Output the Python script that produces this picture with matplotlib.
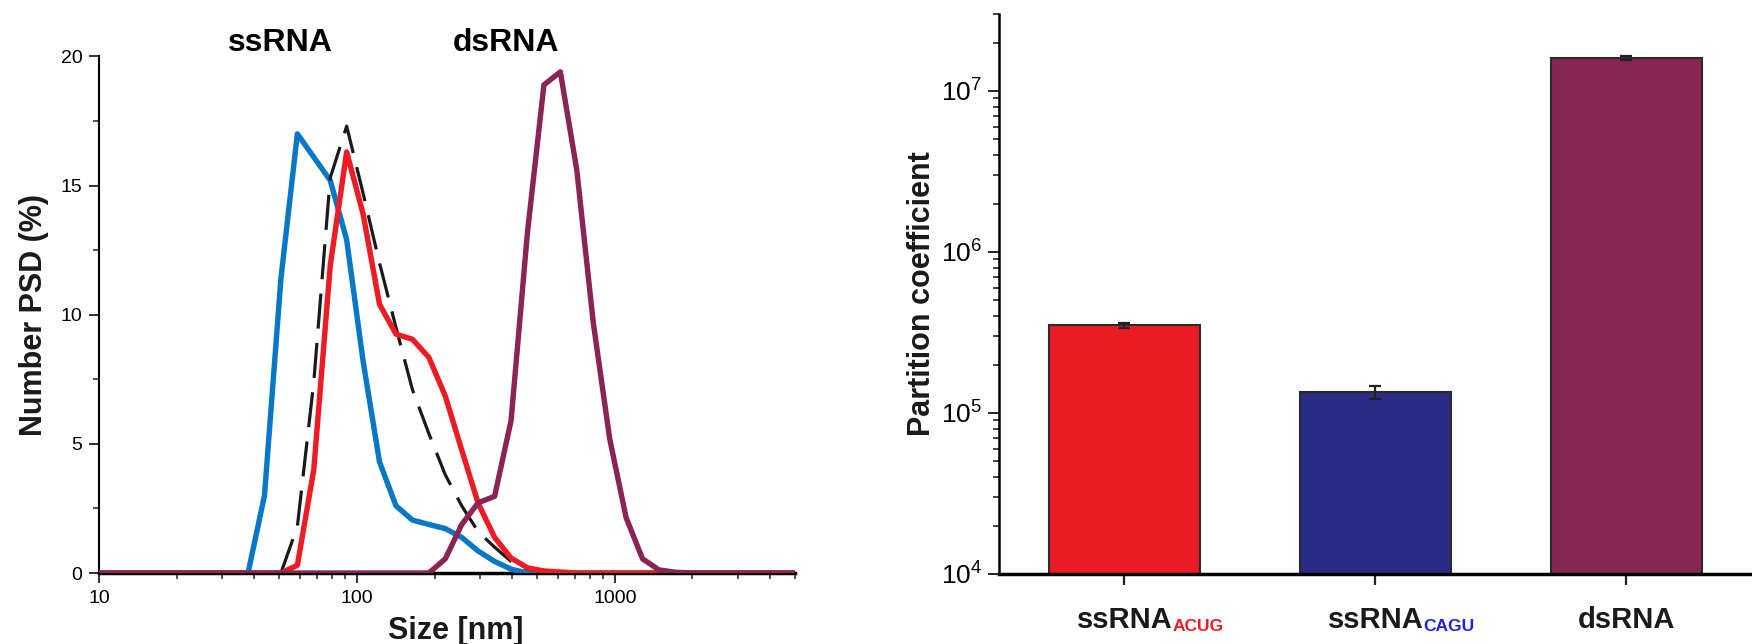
import matplotlib
matplotlib.use('Agg')
import matplotlib.pyplot as plt
from matplotlib.ticker import LogLocator, NullFormatter, MultipleLocator
from matplotlib.transforms import blended_transform_factory

plt.rcParams['font.family'] = ['Liberation Sans', 'DejaVu Sans']
plt.rcParams['mathtext.default'] = 'regular'

# DLS size bins (nm) and number PSD (%) for each sample
sizes = [8.721, 10.1, 11.7, 13.54, 15.69, 18.17, 21.04, 24.36, 28.21, 32.67,
         37.84, 43.82, 50.75, 58.77, 68.06, 78.82, 91.28, 105.7, 122.4, 141.8,
         164.2, 190.1, 220.2, 255.0, 295.3, 342.0, 396.1, 458.7, 531.2, 615.1,
         712.4, 825.0, 955.4, 1106, 1281, 1484, 1718, 1990, 2305, 2669,
         3091, 3580, 4145, 4801, 5560]
psd_blue = [0, 0, 0, 0, 0, 0, 0, 0, 0, 0,
            0, 3.0, 11.4, 17.0, 16.1, 15.2, 12.9, 8.2, 4.3, 2.6,
            2.05, 1.88, 1.72, 1.38, 0.85, 0.45, 0.15, 0, 0, 0,
            0, 0, 0, 0, 0, 0, 0, 0, 0, 0,
            0, 0, 0, 0, 0]
psd_dashed = [0, 0, 0, 0, 0, 0, 0, 0, 0, 0,
              0, 0, 0, 1.8, 7.4, 15.3, 17.3, 14.7, 12.0, 9.5,
              7.1, 5.4, 3.8, 2.6, 1.6, 1.0, 0.45, 0.15, 0.04, 0,
              0, 0, 0, 0, 0, 0, 0, 0, 0, 0,
              0, 0, 0, 0, 0]
psd_red = [0, 0, 0, 0, 0, 0, 0, 0, 0, 0,
           0, 0, 0, 0.3, 4.0, 11.9, 16.3, 13.9, 10.4, 9.25,
           9.05, 8.35, 6.85, 4.76, 2.7, 1.38, 0.58, 0.2, 0.08, 0.04,
           0, 0, 0, 0, 0, 0, 0, 0, 0, 0,
           0, 0, 0, 0, 0]
psd_purple = [0, 0, 0, 0, 0, 0, 0, 0, 0, 0,
              0, 0, 0, 0, 0, 0, 0, 0, 0, 0,
              0, 0, 0.55, 1.88, 2.72, 2.97, 5.9, 13.2, 18.9, 19.4,
              15.6, 9.7, 5.2, 2.15, 0.55, 0.12, 0.03, 0, 0, 0,
              0, 0, 0, 0, 0]

# partition coefficients
bar_names = ['ssRNA', 'ssRNA', 'dsRNA']
bar_subs = ['ACUG', 'CAGU', '']
sub_colors = ['#ED1C24', '#1F1FF5', 'black']
partition = [3.5e5, 1.35e5, 1.6e7]
partition_err = [1.2e4, 1.25e4, 4.5e5]
bar_colors = ['#EC1C24', '#2B2C86', '#862654']

fig = plt.figure(figsize=(17.52, 6.44), dpi=100)

# ---- left: size distribution ----
ax1 = fig.add_axes([0.0565, 0.1102, 0.3973, 0.8022])
ax1.plot(sizes, psd_blue, color='#0878C6', lw=3.9, zorder=3)
ax1.plot(sizes, psd_dashed, color='#1a1a1a', lw=2.3, dashes=(11, 4.5), zorder=4)
ax1.plot(sizes, psd_red, color='#ED1C24', lw=3.9, zorder=5)
ax1.plot(sizes, psd_purple, color='#8B2456', lw=3.9, zorder=6)

ax1.set_xscale('log')
ax1.set_xlim(10, 5000)
ax1.set_ylim(0, 20)
ax1.set_xticks([10, 100, 1000], ['10', '100', '1000'])
ax1.xaxis.set_minor_locator(LogLocator(base=10, subs=range(2, 10)))
ax1.xaxis.set_minor_formatter(NullFormatter())
ax1.set_yticks([0, 5, 10, 15, 20])
ax1.yaxis.set_minor_locator(MultipleLocator(2.5))
ax1.spines['top'].set_visible(False)
ax1.spines['right'].set_visible(False)
ax1.spines['left'].set_linewidth(1.5)
ax1.spines['bottom'].set_linewidth(2.5)
ax1.tick_params(which='major', length=7, width=1.3, labelsize=14, pad=5, color='#222222')
ax1.tick_params(which='minor', length=4, width=1.1, color='#222222')

ax1.set_xlabel('Size [nm]', fontsize=22, fontweight='bold', color='#1a1a1a')
ax1.xaxis.set_label_coords(0.5126, -0.127)
ax1.xaxis.label.set_va('baseline')
ax1.set_ylabel('Number PSD (%)', fontsize=22, fontweight='bold', color='#1a1a1a')
ax1.yaxis.set_label_coords(-0.072, 0.5)

tr1 = blended_transform_factory(ax1.transData, ax1.transAxes)
ax1.text(50.3, 1.01, 'ssRNA', transform=tr1, ha='center', va='baseline',
         fontsize=23, fontweight='bold')
ax1.text(379, 1.01, 'dsRNA', transform=tr1, ha='center', va='baseline',
         fontsize=23, fontweight='bold')

# ---- right: partition coefficients ----
ax2 = fig.add_axes([0.5702, 0.1087, 0.4298, 0.8693])
pos = list(range(len(partition)))
ax2.bar(pos, partition, width=0.6, color=bar_colors, edgecolor='#2a2a2a',
        linewidth=1.5, zorder=2)
ax2.errorbar(pos, partition, yerr=partition_err, fmt='none', ecolor='#222222',
             elinewidth=1.6, capsize=4.6, capthick=1.6, zorder=3)

ax2.set_yscale('log')
ax2.set_ylim(1e4, 3e7)
ax2.set_xlim(-0.5, 2.5)
ax2.yaxis.set_major_locator(LogLocator(base=10, numticks=10))
ax2.yaxis.set_minor_locator(LogLocator(base=10, subs=range(2, 10), numticks=20))
ax2.yaxis.set_minor_formatter(NullFormatter())
ax2.set_xticks(pos)
ax2.set_xticklabels([''] * len(pos))
ax2.spines['top'].set_visible(False)
ax2.spines['right'].set_visible(False)
ax2.spines['left'].set_linewidth(1.8)
ax2.spines['bottom'].set_linewidth(2.5)
ax2.tick_params(axis='y', which='major', length=8, width=1.4, labelsize=19, pad=4, color='#222222')
ax2.tick_params(axis='y', which='minor', length=4.5, width=1.2, color='#222222')
ax2.tick_params(axis='x', which='major', length=8, width=1.6, color='#222222')

ax2.set_ylabel('Partition coefficient', fontsize=22, fontweight='bold', color='#1a1a1a')
ax2.yaxis.set_label_coords(-0.082, 0.5)

tr2 = blended_transform_factory(ax2.transData, ax2.transAxes)
for i, (name, sub) in enumerate(zip(bar_names, bar_subs)):
    t = ax2.text(i, -0.097, name, transform=tr2, ha='center', va='baseline',
                 fontsize=21, fontweight='bold', color='#1a1a1a')
    if sub:
        ax2.annotate(sub, xy=(1, 0), xycoords=t, ha='left', va='bottom',
                     fontsize=12.5, fontweight='bold', color=sub_colors[i])

fig.savefig('out.png', dpi=100)
